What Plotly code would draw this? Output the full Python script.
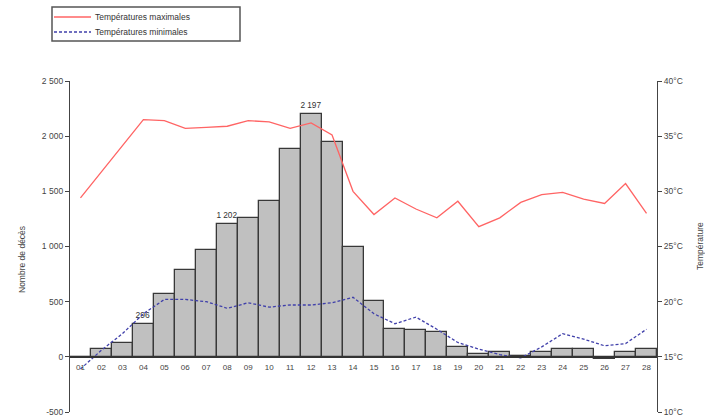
import plotly.graph_objects as go

categories = [f"{i:02d}" for i in range(1, 29)]
deces = [-15, 72, 127, 296, 568, 785, 972, 1202, 1257, 1416, 1884, 2197, 1945, 994,
         507, 254, 247, 224, 88, 27, 42, 5, 42, 72, 72, -20, 42, 72]
bar_labels = ["" for _ in categories]
bar_labels[3] = "296"
bar_labels[7] = "1 202"
bar_labels[11] = "2 197"
t_max = [29.4, 31.8, 34.1, 36.5, 36.4, 35.7, 35.8, 35.9, 36.4, 36.3, 35.7, 36.2, 35.1, 30.0,
         27.9, 29.4, 28.4, 27.6, 29.1, 26.8, 27.6, 29.0, 29.7, 29.9, 29.3, 28.9, 30.7, 28.0]
t_min = [13.9, 15.6, 17.1, 18.9, 20.2, 20.2, 20.0, 19.4, 19.9, 19.5, 19.7, 19.7, 19.9, 20.4,
         18.9, 18.0, 18.6, 17.5, 16.3, 15.7, 15.2, 14.9, 15.9, 17.1, 16.6, 16.0, 16.2, 17.5]
y_ticks = [-500, 0, 500, 1000, 1500, 2000, 2500]
y_ticktext = ["-500", "0", "500", "1 000", "1 500", "2 000", "2 500"]
y2_ticks = [10, 15, 20, 25, 30, 35, 40]
y2_ticktext = ["10°C", "15°C", "20°C", "25°C", "30°C", "35°C", "40°C"]
series_names = ["Températures maximales", "Températures minimales"]
series_colors = ["#ff6464", "#4040aa"]
series_dash = ["solid", "3px,2px"]

FONT = "Liberation Sans, Arial, sans-serif"
W, H = 705, 416
ML, MR, MT, MB = 70, 48, 81, 4
PW, PH = W - ML - MR, H - MT - MB


def px(x):
    return (x - ML) / PW


def py(y):
    return (H - MB - y) / PH


fig = go.Figure()
fig.add_trace(go.Bar(
    x=categories, y=deces, text=bar_labels, textposition="outside",
    textfont=dict(size=8.5, color="#333", family=FONT), cliponaxis=False,
    marker=dict(color="#c0c0c0", line=dict(color="#383838", width=1.3)),
    showlegend=False, yaxis="y"))
for vals, name, col, dash in zip([t_max, t_min], series_names, series_colors, series_dash):
    fig.add_trace(go.Scatter(
        x=categories, y=vals, mode="lines", name=name, showlegend=False,
        line=dict(color=col, width=1.3, dash=dash), yaxis="y2"))

# legend drawn as layout decoration
shapes = [dict(type="rect", xref="paper", yref="paper", x0=px(52), x1=px(240),
               y0=py(7), y1=py(41), line=dict(color="#555", width=1.5),
               fillcolor="white", layer="above")]
annotations = []
for i, (name, col, dash) in enumerate(zip(series_names, series_colors, series_dash)):
    yy = 17 + 15 * i
    shapes.append(dict(type="line", xref="paper", yref="paper", x0=px(54), x1=px(91),
                       y0=py(yy), y1=py(yy), line=dict(color=col, width=1.3, dash=dash)))
    annotations.append(dict(text=name, xref="paper", yref="paper", x=px(93), y=py(yy),
                            xanchor="left", yanchor="middle", showarrow=False,
                            font=dict(size=8.5, color="#333")))

annotations += [
    dict(text="Nombre de décès", xref="paper", yref="paper", x=px(22),
         xanchor="center", y=py(260), yanchor="middle", textangle=-90, showarrow=False,
         font=dict(size=8.5, color="#444")),
    dict(text="Température", xref="paper", yref="paper", x=px(700),
         xanchor="center", y=py(246), yanchor="middle", textangle=-90, showarrow=False,
         font=dict(size=8.5, color="#444")),
]

fig.update_layout(
    width=W, height=H,
    margin=dict(l=ML, r=MR, t=MT, b=MB),
    paper_bgcolor="white", plot_bgcolor="white",
    font=dict(family=FONT, size=8.5, color="#333"),
    bargap=0, showlegend=False,
    xaxis=dict(anchor="free", position=1/6, showline=True, linecolor="#333",
               linewidth=1.5, ticks="", showgrid=False, tickfont=dict(size=8, color="#444"),
               ticklabelstandoff=3, automargin=False),
    yaxis=dict(range=[-500, 2500], tickvals=y_ticks, ticktext=y_ticktext,
               showline=True, linecolor="#444", linewidth=1.3, ticks="outside",
               ticklen=4, tickcolor="#444", showgrid=False, zeroline=False,
               tickfont=dict(size=8.5, color="#444"), automargin=False,
               ticklabeloverflow="allow"),
    yaxis2=dict(range=[10, 40], tickvals=y2_ticks, ticktext=y2_ticktext,
                overlaying="y", side="right", showline=True, linecolor="#444",
                linewidth=1.3, ticks="outside", ticklen=4, tickcolor="#444",
                showgrid=False, zeroline=False, tickfont=dict(size=8.5, color="#444"),
                automargin=False, ticklabeloverflow="allow"),
    shapes=shapes,
    annotations=annotations,
)
fig.write_html("out.html", config={"displayModeBar": False},
               post_script="document.body.style.margin='0';")
